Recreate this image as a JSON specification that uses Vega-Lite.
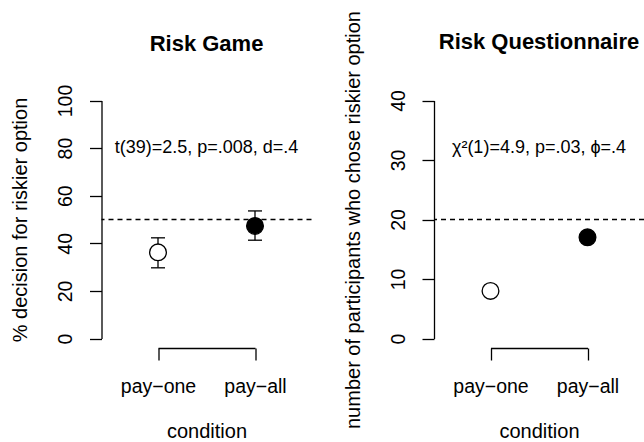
{
  "$schema": "https://vega.github.io/schema/vega-lite/v6.json",
  "padding": {"left": 9.5, "top": 10, "right": 0, "bottom": 0},
  "spacing": 29.5,
  "background": "white",
  "config": {
    "view": {"stroke": null},
    "font": "Liberation Sans",
    "axis": {
      "domainColor": "black", "domainWidth": 1.3,
      "tickColor": "black", "tickWidth": 1.3, "tickSize": 12,
      "labelColor": "black", "labelFontSize": 19.5, "labelFont": "Liberation Sans",
      "titleColor": "black", "titleFontSize": 20, "titleFont": "Liberation Sans", "titleFontWeight": "normal",
      "grid": false, "labelFlush": false, "labelOverlap": false
    },
    "axisY": {
      "labelAngle": -90, "labelAlign": "center", "labelBaseline": "alphabetic", "labelPadding": 18,
      "titleBaseline": "alphabetic", "titleAngle": -90, "titleAlign": "center", "titleX": -75, "titleY": 128.5
    },
    "axisX": {
      "labelAngle": 0, "labelAlign": "center", "labelBaseline": "alphabetic", "labelPadding": 32.5,
      "titleBaseline": "alphabetic", "titleAlign": "center", "titleX": 105, "titleY": 89.5,
      "labelExpr": "replace(datum.label, '-', '\u2212')"
    },
    "title": {"font": "Liberation Sans", "fontSize": 22, "fontWeight": "bold", "color": "black", "anchor": "middle", "baseline": "alphabetic"}
  },
  "datasets": {
    "game": [
      {"condition": "pay-one", "pct": 36.2, "lo": 29.7, "hi": 42.3},
      {"condition": "pay-all", "pct": 47.3, "lo": 41.3, "hi": 53.6}
    ],
    "quest": [
      {"condition": "pay-one", "n": 8},
      {"condition": "pay-all", "n": 17}
    ]
  },
  "hconcat": [
    {
      "width": 210, "height": 257,
      "title": {"text": "Risk Game", "offset": 28},
      "data": {"name": "game"},
      "layer": [
        {
          "data": {"values": [{"ref": 50}]},
          "mark": {"type": "rule", "strokeDash": [5, 4], "strokeWidth": 1.3, "color": "black"},
          "encoding": {
            "y": {"field": "ref", "type": "quantitative", "title": "% decision for riskier option",
                  "scale": {"domain": [0, 100], "range": [247.5, 9.5], "nice": false, "zero": false},
                  "axis": {"values": [0, 20, 40, 60, 80, 100]}}
          }
        },
        {
          "mark": {"type": "rule", "strokeWidth": 1.3, "color": "black"},
          "encoding": {
            "x": {"field": "condition", "type": "nominal", "title": "condition",
                  "scale": {"type": "point", "domain": ["pay-one", "pay-all"], "range": [56.5, 153.5], "padding": 0}},
            "y": {"field": "lo", "type": "quantitative", "title": "% decision for riskier option",
                  "scale": {"domain": [0, 100], "range": [247.5, 9.5], "nice": false, "zero": false}},
            "y2": {"field": "hi"}
          }
        },
        {
          "mark": {"type": "tick", "orient": "horizontal", "size": 14, "thickness": 1.3, "color": "black", "opacity": 1},
          "encoding": {
            "x": {"field": "condition", "type": "nominal", "title": "condition",
                  "scale": {"type": "point", "domain": ["pay-one", "pay-all"], "range": [56.5, 153.5], "padding": 0}},
            "y": {"field": "lo", "type": "quantitative", "title": "% decision for riskier option",
                  "scale": {"domain": [0, 100], "range": [247.5, 9.5], "nice": false, "zero": false}}
          }
        },
        {
          "mark": {"type": "tick", "orient": "horizontal", "size": 14, "thickness": 1.3, "color": "black", "opacity": 1},
          "encoding": {
            "x": {"field": "condition", "type": "nominal", "title": "condition",
                  "scale": {"type": "point", "domain": ["pay-one", "pay-all"], "range": [56.5, 153.5], "padding": 0}},
            "y": {"field": "hi", "type": "quantitative", "title": "% decision for riskier option",
                  "scale": {"domain": [0, 100], "range": [247.5, 9.5], "nice": false, "zero": false}}
          }
        },
        {
          "mark": {"type": "circle", "size": 280, "stroke": "black", "strokeWidth": 1.3, "opacity": 1},
          "encoding": {
            "x": {"field": "condition", "type": "nominal", "title": "condition",
                  "scale": {"type": "point", "domain": ["pay-one", "pay-all"], "range": [56.5, 153.5], "padding": 0}},
            "y": {"field": "pct", "type": "quantitative", "title": "% decision for riskier option",
                  "scale": {"domain": [0, 100], "range": [247.5, 9.5], "nice": false, "zero": false}},
            "fill": {"field": "condition", "type": "nominal",
                     "scale": {"domain": ["pay-one", "pay-all"], "range": ["white", "black"]}, "legend": null}
          }
        },
        {
          "data": {"values": [{"label": "t(39)=2.5, p=.008, d=.4", "at": 80}]},
          "mark": {"type": "text", "fontSize": 18, "font": "Liberation Sans", "color": "black", "align": "center", "baseline": "middle"},
          "encoding": {
            "y": {"field": "at", "type": "quantitative", "title": "% decision for riskier option",
                  "scale": {"domain": [0, 100], "range": [247.5, 9.5], "nice": false, "zero": false}},
            "text": {"field": "label"}
          }
        }
      ]
    },
    {
      "width": 210, "height": 257,
      "title": {"text": "Risk Questionnaire", "offset": -43},
      "data": {"name": "quest"},
      "layer": [
        {
          "data": {"values": [{"ref": 20}]},
          "mark": {"type": "rule", "strokeDash": [5, 4], "strokeWidth": 1.3, "color": "black"},
          "encoding": {
            "y": {"field": "ref", "type": "quantitative", "title": "number of participants who chose riskier option",
                  "scale": {"domain": [0, 40], "range": [247.5, 9.5], "nice": false, "zero": false},
                  "axis": {"values": [0, 10, 20, 30, 40]}}
          }
        },
        {
          "mark": {"type": "circle", "size": 280, "stroke": "black", "strokeWidth": 1.3, "opacity": 1},
          "encoding": {
            "x": {"field": "condition", "type": "nominal", "title": "condition",
                  "scale": {"type": "point", "domain": ["pay-one", "pay-all"], "range": [56.5, 153.5], "padding": 0}},
            "y": {"field": "n", "type": "quantitative", "title": "number of participants who chose riskier option",
                  "scale": {"domain": [0, 40], "range": [247.5, 9.5], "nice": false, "zero": false}},
            "fill": {"field": "condition", "type": "nominal",
                     "scale": {"domain": ["pay-one", "pay-all"], "range": ["white", "black"]}, "legend": null}
          }
        },
        {
          "data": {"values": [{"label": "\u03c7\u00b2(1)=4.9, p=.03, \u03d5=.4", "at": 32}]},
          "mark": {"type": "text", "fontSize": 18, "font": "Liberation Sans", "color": "black", "align": "center", "baseline": "middle"},
          "encoding": {
            "y": {"field": "at", "type": "quantitative", "title": "number of participants who chose riskier option",
                  "scale": {"domain": [0, 40], "range": [247.5, 9.5], "nice": false, "zero": false}},
            "text": {"field": "label"}
          }
        }
      ]
    }
  ]
}
